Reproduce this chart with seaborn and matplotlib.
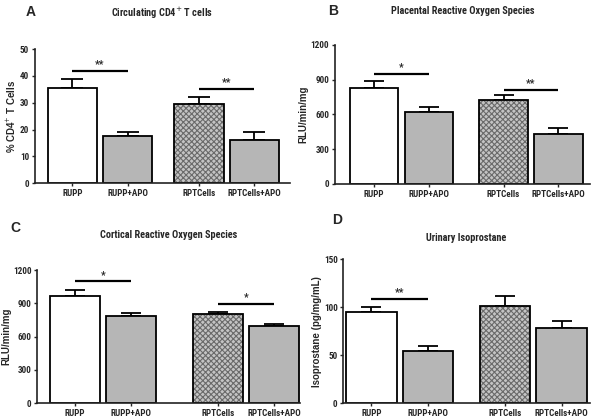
import numpy as np
import pandas as pd
import matplotlib
matplotlib.use('Agg')
import matplotlib.pyplot as plt
import matplotlib.colors as mcolors
from matplotlib import font_manager as fm
import seaborn as sns

# ---------------- data ----------------
categories = ['RUPP', 'RUPP+APO', 'RPTCells', 'RPTCells+APO']
groups = ['RUPP', 'RUPP', 'RPTCells', 'RPTCells']
treatments = ['None', 'APO', 'None', 'APO']

a_mean = [35.5, 17.4, 29.5, 16.0]
a_err = [3.3, 1.6, 2.6, 3.0]
b_mean = [825, 618, 725, 428]
b_err = [68, 42, 42, 52]
c_mean = [965, 790, 800, 693]
c_err = [58, 22, 22, 17]
d_mean = [94.5, 54.8, 101.0, 78.5]
d_err = [6.0, 4.5, 11.0, 7.0]

# (bar i, bar j, line height, label)
a_sig = [(0, 1, 42.0, '**'), (2, 3, 35.3, '**')]
b_sig = [(0, 1, 952, '*'), (2, 3, 814, '**')]
c_sig = [(0, 1, 1097, '*'), (2, 3, 895, '*')]
d_sig = [(0, 1, 109, '**')]

a_ticks = [0, 10, 20, 30, 40, 50]
b_ticks = [0, 300, 600, 900, 1200]
c_ticks = [0, 300, 600, 900, 1200]
d_ticks = [0, 50, 100, 150]

# ---------------- style ----------------
sns.set_style('ticks')
ttf = fm.fontManager.ttflist
names = {f.name for f in ttf}
narrow = None
stretch = 'normal'
for cand in ['Liberation Sans Narrow', 'Arial Narrow', 'Roboto Condensed',
             'Open Sans Condensed', 'Noto Sans Condensed', 'DejaVu Sans Condensed']:
    if cand in names:
        narrow = cand
        break
if narrow is None:
    for pref in ['Roboto', 'Noto Sans', 'Open Sans', 'DejaVu Sans']:
        if any(f.name == pref and f.stretch in ('condensed', 'semi-condensed', 'extra-condensed')
               for f in ttf):
            narrow = pref
            stretch = 'condensed'
            break
if narrow is None:
    narrow = 'Liberation Sans'
    small = True
else:
    small = False

plt.rcParams['font.family'] = [narrow, 'DejaVu Sans']
plt.rcParams['font.stretch'] = stretch
plt.rcParams['hatch.linewidth'] = 0.8

tick_fs = 6.0 if small else 6.6
title_fs = 7.0 if small else 7.4

bar_colors = ['white', '#b6b6b6', '#c4c4c4', '#b6b6b6']

fig = plt.figure(figsize=(6, 4.2), dpi=100)


def panel(rect, means, errs, sigs, yticks, ylabel, title, pad, width, ml, mr, cap):
    ax = fig.add_axes(rect)
    df = pd.DataFrame({'group': groups, 'treat': treatments, 'value': means})
    sns.barplot(data=df, x='group', y='value', hue='treat',
                order=['RUPP', 'RPTCells'], hue_order=['None', 'APO'],
                width=width, gap=0.11, errorbar=None, legend=False,
                saturation=1, ax=ax)
    patches = sorted(ax.patches, key=lambda p: p.get_x())
    centers = []
    for k, p in enumerate(patches):
        p.set_facecolor(bar_colors[k])
        p.set_edgecolor('black')
        p.set_linewidth(1.3)
        p.set_zorder(2)
        if k == 2:
            p.set_hatch('xxxxxx')
            p._hatch_color = mcolors.to_rgba('#6a6a6a')
        centers.append(p.get_x() + p.get_width() / 2)
    centers = np.array(centers)
    ax.errorbar(centers, means, yerr=[np.zeros(len(means)), errs], fmt='none',
                ecolor='black', elinewidth=1.3, capsize=cap, capthick=1.3, zorder=1)
    top = yticks[-1]
    for i, j, h, lab in sigs:
        ax.plot([centers[i], centers[j]], [h, h], color='black', lw=1.6,
                solid_capstyle='butt')
        ax.text((centers[i] + centers[j]) / 2, h + top * 0.012, lab,
                ha='center', va='bottom', fontsize=7.5, fontweight='bold')
    left = patches[0].get_x()
    right = patches[-1].get_x() + patches[-1].get_width()
    span = right - left
    ax.set_xlim(left - ml * span, right + mr * span)
    ax.set_ylim(0, top)
    ax.set_yticks(yticks)
    ax.set_xticks(centers)
    ax.set_xticklabels(categories)
    ax.set_xlabel('')
    ax.set_ylabel(ylabel, fontsize=7, fontweight='bold',
                  family=['Liberation Sans', 'DejaVu Sans'], labelpad=1.5)
    ax.set_title(title, fontsize=title_fs, fontweight='bold', pad=pad)
    for s in ['top', 'right']:
        ax.spines[s].set_visible(False)
    for s in ['left', 'bottom']:
        ax.spines[s].set_linewidth(1.2)
        ax.spines[s].set_color('#222222')
    ax.tick_params(axis='both', length=2.5, width=1, pad=1.5, labelsize=tick_fs)
    for t in ax.get_xticklabels() + ax.get_yticklabels():
        t.set_fontweight('bold')
    return ax


panel([0.058, 0.564, 0.425, 0.319], a_mean, a_err, a_sig, a_ticks,
      '% CD4$^{+}$ T Cells', 'Circulating CD4$^{+}$ T cells', 23,
      0.873, 13 / 233, 11 / 233, 8)
panel([0.558, 0.562, 0.425, 0.331], b_mean, b_err, b_sig, b_ticks,
      'RLU/min/mg', 'Placental Reactive Oxygen Species', 22,
      0.847, 15 / 235, 7 / 235, 7.5)
panel([0.062, 0.040, 0.438, 0.317], c_mean, c_err, c_sig, c_ticks,
      'RLU/min/mg', 'Cortical Reactive Oxygen Species', 23,
      0.789, 13 / 252, 1 / 252, 7.5)
panel([0.572, 0.040, 0.411, 0.343], d_mean, d_err, d_sig, d_ticks,
      'Isoprostane (pg/mg/mL)', 'Urinary Isoprostane', 13,
      0.851, 3 / 242, 3 / 242, 7.5)

letter_font = ['Liberation Sans', 'DejaVu Sans']
fig.text(0.042, 0.971, 'A', fontsize=10, fontweight='bold', family=letter_font, va='center')
fig.text(0.547, 0.974, 'B', fontsize=10, fontweight='bold', family=letter_font, va='center')
fig.text(0.017, 0.457, 'C', fontsize=10, fontweight='bold', family=letter_font, va='center')
fig.text(0.553, 0.476, 'D', fontsize=10, fontweight='bold', family=letter_font, va='center')

fig.savefig('out.png', dpi=100, facecolor='white')
